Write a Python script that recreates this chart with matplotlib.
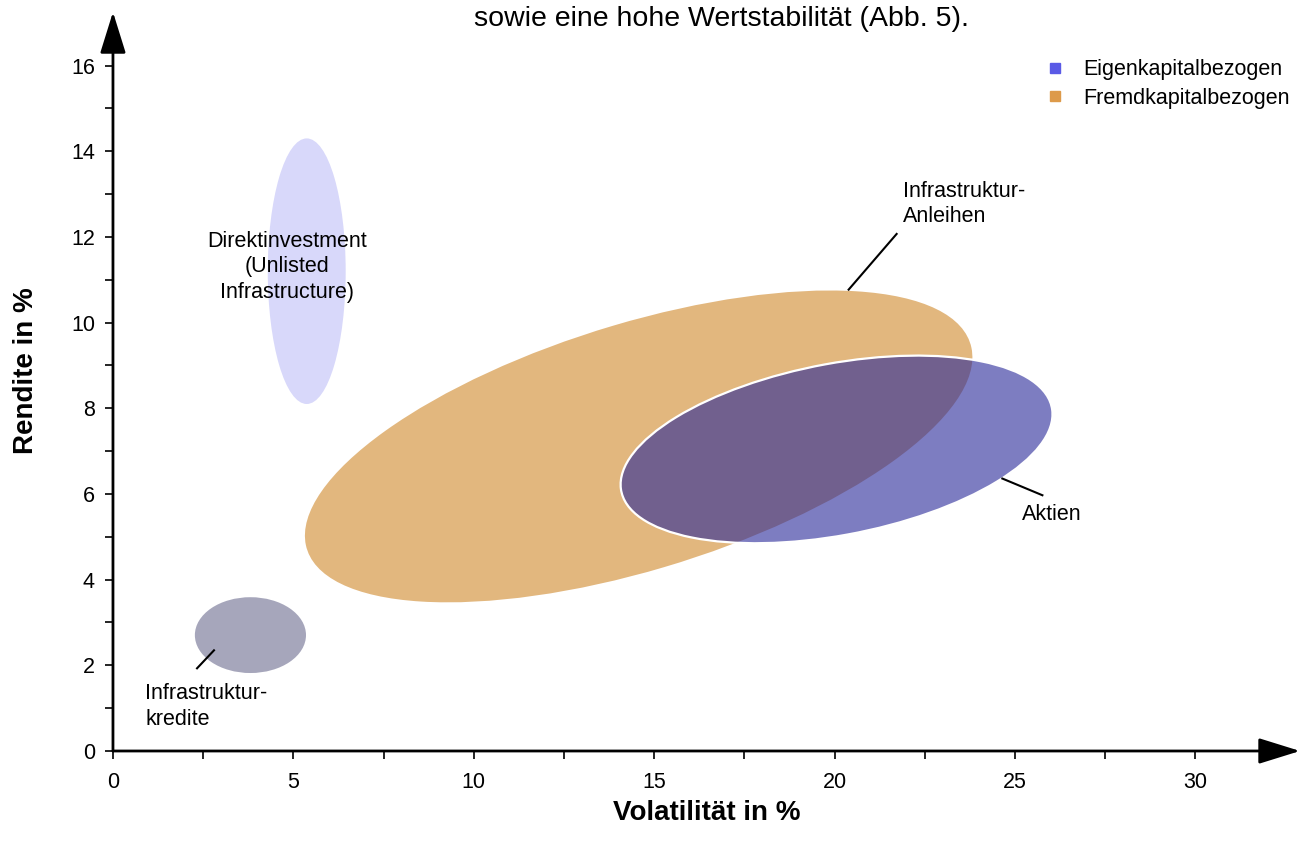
import numpy as np
import matplotlib
matplotlib.use("Agg")
import matplotlib.pyplot as plt
from matplotlib.patches import Ellipse
from matplotlib.lines import Line2D

plt.rcParams["font.family"] = ["Liberation Sans", "DejaVu Sans"]

# Range of volatility and return (in %) for each investment type, plus the
# tilt (correlation) of the range ellipse
names = ["Infrastruktur-Anleihen", "Aktien", "Direktinvestment", "Infrastrukturkredite"]
vol_lo = [5.32, 14.07, 4.29, 2.27]
vol_hi = [23.82, 26.04, 6.45, 5.35]
ret_lo = [3.47, 4.85, 8.10, 1.82]
ret_hi = [10.75, 9.23, 14.30, 3.59]
tilt = [0.572, 0.374, 0.0, 0.0]

x_ticks = [0, 5, 10, 15, 20, 25, 30]
y_ticks = [0, 2, 4, 6, 8, 10, 12, 14, 16]
legend_labels = ["Eigenkapitalbezogen", "Fremdkapitalbezogen"]

fills = ["#e2b77e", "#262699", "#d8d8fa", "#a6a6bb"]
alphas = [1.0, 0.6, 1.0, 1.0]
edges = ["none", "white", "none", "none"]

fig = plt.figure(figsize=(13.03, 8.48), dpi=100)
ax = fig.add_axes([0.0867, 0.1144, 0.9110, 0.8714])
ax.set_xlim(0, 32.9)
ax.set_ylim(0, 17.25)


def range_ellipse(x0, x1, y0, y1, rho):
    cx, cy = (x0 + x1) / 2, (y0 + y1) / 2
    hw, hh = (x1 - x0) / 2, (y1 - y0) / 2
    m = np.array([[hw * hw, rho * hw * hh], [rho * hw * hh, hh * hh]])
    vals, vecs = np.linalg.eigh(m)
    major = vecs[:, 1]
    angle = np.degrees(np.arctan2(major[1], major[0]))
    return (cx, cy), 2 * np.sqrt(vals[1]), 2 * np.sqrt(vals[0]), angle


for i in range(len(names)):
    c, w, h, a = range_ellipse(vol_lo[i], vol_hi[i], ret_lo[i], ret_hi[i], tilt[i])
    ax.add_patch(Ellipse(c, w, h, angle=a, facecolor=fills[i], alpha=alphas[i],
                         edgecolor="none", linewidth=0, zorder=2 + i))
    if edges[i] != "none":
        ax.add_patch(Ellipse(c, w, h, angle=a, facecolor="none",
                             edgecolor=edges[i], linewidth=1.6, zorder=2 + i))

# Axes with arrow heads
for s in ["top", "right", "left", "bottom"]:
    ax.spines[s].set_visible(False)
arrow = dict(arrowstyle="-|>,head_length=1.35,head_width=0.42", lw=2.0,
             color="black", mutation_scale=19, shrinkA=0, shrinkB=0)
ax.annotate("", xy=(1, 0), xytext=(0, 0), xycoords="axes fraction",
            arrowprops=arrow, zorder=10, annotation_clip=False)
ax.annotate("", xy=(0, 1), xytext=(0, 0), xycoords="axes fraction",
            arrowprops=arrow, zorder=10, annotation_clip=False)

ax.set_xticks(x_ticks)
ax.set_xticks(np.arange(2.5, 31, 5), minor=True)
ax.set_yticks(y_ticks)
ax.set_yticks(np.arange(1, 17, 2), minor=True)
ax.tick_params(which="both", length=6, width=1.2, direction="out",
               labelsize=15.5, color="black")
ax.tick_params(axis="x", pad=9)
ax.tick_params(axis="y", pad=7)

ax.set_xlabel("Volatilität in %", fontsize=20, fontweight="bold", labelpad=5)
ax.set_ylabel("Rendite in %", fontsize=20, fontweight="bold")
ax.yaxis.set_label_coords(-0.062, 0.515)

# Annotations
txt = dict(fontsize=15.5, color="black", linespacing=1.3, zorder=12)
ax.text(4.82, 11.3, "Direktinvestment\n(Unlisted\nInfrastructure)", ha="center", va="center", **txt)
ax.text(21.9, 12.77, "Infrastruktur-\nAnleihen", ha="left", va="center", **txt)
ax.text(25.18, 5.52, "Aktien", ha="left", va="center", **txt)
ax.text(0.89, 1.03, "Infrastruktur-\nkredite", ha="left", va="center", **txt)
ax.plot([21.72, 20.39], [12.07, 10.77], color="black", lw=1.5, zorder=12)
ax.plot([24.65, 25.76], [6.36, 5.97], color="black", lw=1.5, zorder=12)
ax.plot([2.33, 2.80], [1.93, 2.35], color="black", lw=1.5, zorder=12)

# Legend
handles = [Line2D([], [], marker="s", ls="none", markersize=7.5, color="#5a5ae6"),
           Line2D([], [], marker="s", ls="none", markersize=7.5, color="#dd9a4a")]
fig.legend(handles, legend_labels, loc="upper left", bbox_to_anchor=(0.8013, 0.930),
           frameon=False, fontsize=15.5, handletextpad=0.8, labelspacing=0.35,
           handlelength=1.0, borderpad=0, borderaxespad=0)

fig.text(0.554, 0.978, "sowie eine hohe Wertstabilität (Abb. 5).", ha="center",
         va="center", fontsize=20.5)

fig.savefig("out.png", dpi=100)
